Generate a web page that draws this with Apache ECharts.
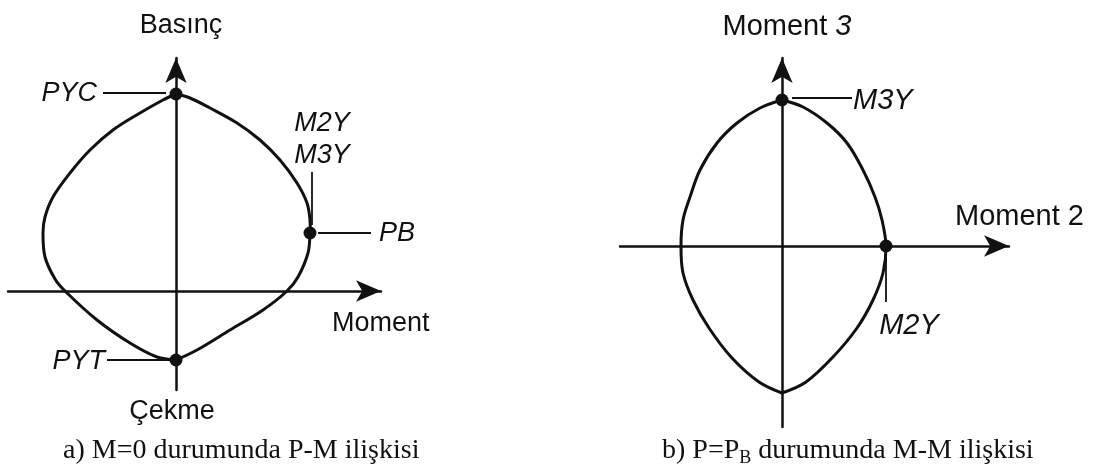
<!DOCTYPE html>
<html>
<head>
<meta charset="utf-8">
<script src="https://cdn.jsdelivr.net/npm/echarts@6/dist/echarts.min.js"></script>
<style>
html, body { margin: 0; padding: 0; background: #fff; }
#chart { width: 1099px; height: 470px; }
</style>
</head>
<body>
<div id="chart"></div>
<script>
// a) P-M relation for M=0 (moment, axial force)
const pmRightM = [0, 7, 17, 30.5, 42, 52, 60.5, 65.5, 67, 67, 66, 61, 55.5, 43.5, 27, 10.5, 0];
const pmRightP = [98.5, 96.5, 91.5, 84, 75.5, 65.5, 54, 44, 35.5, 29, 19, 7, 0, -9.5, -19.5, -29.5, -34.5];
const pmLeftM = [0, -6.5, -18, -31.5, -43, -53, -61.5, -65.5, -66.5, -65.5, -60.5, -55.5, -39.5, -23, -9.5, 0];
const pmLeftP = [98.5, 95.5, 89, 80.5, 70.5, 59, 47, 37, 29, 17, 6, 0, -14.5, -26, -33, -34.5];
const pmPointNames = ['PYC', 'PB', 'PYT'];
const pmPointM = [0, 67, 0];
const pmPointP = [98.5, 29, -34.5];

// b) M-M relation for P=PB (moment 2, moment 3)
const mmRightM2 = [0, 10.5, 22.5, 32.5, 40.5, 46.5, 50, 52, 50.5, 45.5, 37.5, 25.5, 12, 0];
const mmRightM3 = [73, 69.5, 61.5, 51.5, 38, 24.5, 13, 0, -13.5, -27, -41, -55.5, -68, -73.5];
const mmLeftM2 = [0, -11, -22.5, -32.5, -41, -46, -49.5, -50.5, -49.5, -44.5, -36.5, -25, -11.5, 0];
const mmLeftM3 = [73, 69, 61.5, 51.5, 38, 24.5, 13, 0, -13.5, -27, -41, -56, -68, -73.5];
const mmPointNames = ['M3Y', 'M2Y'];
const mmPointM2 = [0, 52];
const mmPointM3 = [73, 0];

const INK = '#111';
const SANS = '"Liberation Sans", Arial, Helvetica, sans-serif';
const SERIF = '"Liberation Serif", "Times New Roman", serif';

const zip = (a, b) => a.map((v, i) => [v, b[i]]);

function axis(min, max) {
    return {
        type: 'value',
        min: min,
        max: max,
        splitLine: { show: false },
        axisTick: { show: false },
        axisLabel: { show: false },
        axisLine: {
            onZero: true,
            symbol: ['none', 'arrow'],
            symbolSize: [16, 25],
            lineStyle: { color: INK, width: 2.5 }
        }
    };
}

// smooth curve through the read points, drawn once per series
function curve(points, gi) {
    return {
        type: 'custom',
        coordinateSystem: 'cartesian2d',
        xAxisIndex: gi,
        yAxisIndex: gi,
        data: points,
        encode: { x: 0, y: 1 },
        silent: true,
        clip: false,
        renderItem: function (params, api) {
            if (params.dataIndex !== 0) return null;
            return {
                type: 'polyline',
                shape: { points: points.map(p => api.coord(p)), smooth: 0.35 },
                style: { fill: 'none', stroke: INK, lineWidth: 3, lineJoin: 'round', lineCap: 'round' }
            };
        }
    };
}

function dots(data, gi) {
    return {
        type: 'scatter',
        xAxisIndex: gi,
        yAxisIndex: gi,
        data: data,
        symbolSize: 13,
        silent: true,
        itemStyle: { color: INK, opacity: 1 },
        z: 5
    };
}

const chart = echarts.init(document.getElementById('chart'));

chart.setOption({
    animation: false,
    backgroundColor: '#fff',
    grid: [
        { left: 8, top: 58, width: 373, height: 332 },
        { left: 620, top: 58, width: 389, height: 369 }
    ],
    xAxis: [
        Object.assign(axis(-84, 102.5), { gridIndex: 0 }),
        Object.assign(axis(-81, 113.5), { gridIndex: 1 })
    ],
    yAxis: [
        Object.assign(axis(-49.5, 116.5), { gridIndex: 0 }),
        Object.assign(axis(-90.5, 94), { gridIndex: 1 })
    ],
    series: [
        curve(zip(pmRightM, pmRightP), 0),
        curve(zip(pmLeftM, pmLeftP), 0),
        curve(zip(mmRightM2, mmRightM3), 1),
        curve(zip(mmLeftM2, mmLeftM3), 1),
        dots(zip(pmPointM, pmPointP), 0),
        dots(zip(mmPointM2, mmPointM3), 1)
    ]
});

// annotations placed from the key points
const pt = (g, x, y) => chart.convertToPixel({ gridIndex: g }, [x, y]);
const [pyc, pb, pyt] = pmPointNames.map((n, i) => pt(0, pmPointM[i], pmPointP[i]));
const [m3y, m2y] = mmPointNames.map((n, i) => pt(1, mmPointM2[i], mmPointM3[i]));

const lead = (x1, y1, x2, y2) => ({
    type: 'line', silent: true, z: 10,
    shape: { x1: x1, y1: y1, x2: x2, y2: y2 },
    style: { stroke: INK, lineWidth: 1.8 }
});
const txt = (text, x, y, size, align, italic, family) => ({
    type: 'text', silent: true, z: 10, x: x, y: y,
    style: {
        text: text, fill: INK, font: (italic ? 'italic ' : '') + size + 'px ' + (family || SANS),
        align: align, verticalAlign: 'middle'
    }
});

chart.setOption({
    graphic: [
        // panel a
        txt('Basınç', 181, 26, 27, 'center'),
        txt('Çekme', 172, 412, 27, 'center'),
        txt('Moment', 332, 324, 27, 'left'),
        lead(pyc[0] - 73, pyc[1] - 1, pyc[0] - 10, pyc[1] - 1),
        txt(pmPointNames[0], pyc[0] - 79, pyc[1] - 1, 27, 'right', true),
        lead(pyt[0] - 69, pyt[1], pyt[0] - 8, pyt[1]),
        txt(pmPointNames[2], pyt[0] - 71, pyt[1] + 1, 27, 'right', true),
        lead(pb[0] + 8, pb[1], pb[0] + 61, pb[1]),
        txt(pmPointNames[1], pb[0] + 69, pb[1], 27, 'left', true),
        lead(pb[0] + 2, pb[1] - 61, pb[0] + 2, pb[1] - 8),
        txt('M2Y', pb[0] + 12, pb[1] - 110, 27, 'center', true),
        txt('M3Y', pb[0] + 12, pb[1] - 78, 27, 'center', true),
        txt('a) M=0 durumunda P-M ilişkisi', 63, 451, 28, 'left', false, SERIF),

        // panel b
        {
            type: 'text', silent: true, z: 10, x: 787, y: 27,
            style: {
                text: '{n|Moment }{i|3}', align: 'center', verticalAlign: 'middle',
                rich: {
                    n: { font: '29px ' + SANS, fill: INK },
                    i: { font: 'italic 29px ' + SANS, fill: INK }
                }
            }
        },
        txt('Moment 2', 955, 217, 29, 'left'),
        lead(m3y[0] + 10, m3y[1] - 2, m3y[0] + 70, m3y[1] - 2),
        txt(mmPointNames[0], m3y[0] + 71, m3y[1] + 1, 29, 'left', true),
        lead(m2y[0], m2y[1] + 7, m2y[0], m2y[1] + 56),
        txt(mmPointNames[1], m2y[0] + 23, m2y[1] + 80, 29, 'center', true),
        {
            type: 'text', silent: true, z: 10, x: 662, y: 451,
            style: {
                text: '{a|b) P=P}{s|B}{a| durumunda M-M ilişkisi}', align: 'left', verticalAlign: 'middle',
                rich: {
                    a: { font: '28px ' + SERIF, fill: INK, lineHeight: 32 },
                    s: { font: '18px ' + SERIF, fill: INK, lineHeight: 32, verticalAlign: 'bottom', padding: [10, 0, 0, 0] }
                }
            }
        }
    ]
});
</script>
</body>
</html>
